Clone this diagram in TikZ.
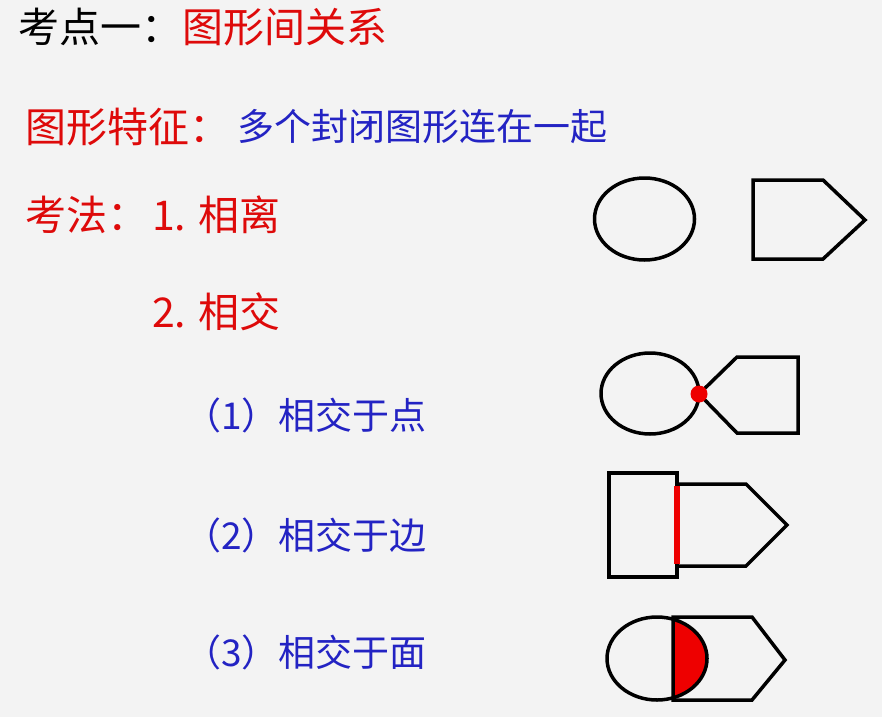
\documentclass[tikz,border=0pt]{standalone}
\usepackage{fontspec}
\setmainfont{Noto Sans CJK SC}
\definecolor{txtred}{RGB}{222,10,10}
\definecolor{txtblue}{RGB}{35,35,195}
\definecolor{bgc}{RGB}{243,243,243}
\definecolor{shred}{RGB}{238,0,0}
\begin{document}
\begin{tikzpicture}[x=1pt,y=-1pt,
  bigtxt/.style={anchor=west,inner sep=0pt,font=\fontsize{41}{48}\selectfont},
  smalltxt/.style={anchor=west,inner sep=0pt,font=\fontsize{37}{44}\selectfont,text=txtblue},
  outline/.style={draw=black,line width=3.5pt,line join=miter},
  redfill/.style={fill=shred}]
\fill[bgc] (0,0) rectangle (882,717);
\useasboundingbox (0,0) rectangle (882,717);

% texts
\node[bigtxt] (t1) at (18,27) {考点一：\textcolor{txtred}{图形间关系}};
\node[bigtxt,text=txtred] (t2) at (25,127) {图形特征：};
\node[smalltxt] (t2b) at (237,127) {多个封闭图形连在一起};
\node[bigtxt,text=txtred] (t3) at (25,215) {考法：};
\node[bigtxt,text=txtred] (t3b) at (152,215) {1. 相离};
\node[bigtxt,text=txtred] (t4) at (152,312) {2. 相交};
\node[smalltxt] (t5) at (184,415) {（1）相交于点};
\node[smalltxt] (t6) at (184,535) {（2）相交于边};
\node[smalltxt] (t7) at (184,652) {（3）相交于面};

% row 1: separate
\draw[outline] (644.5,219) ellipse [x radius=50,y radius=41];
\draw[outline] (753,180) -- (823,180) -- (865,220) -- (823,259) -- (753,259) -- cycle;

% row 2: touching at a point
\draw[outline] (650,393.5) ellipse [x radius=49,y radius=40.5];
\draw[outline] (699,394) -- (737,357) -- (798,357) -- (798,433) -- (737,433) -- cycle;
\fill[shred] (699,394) circle [radius=8.5];

% row 3: sharing an edge
\draw[outline] (609,473) rectangle (677,577);
\draw[outline] (677,484) -- (746,484) -- (787,525) -- (746,566) -- (677,566) -- cycle;
\draw[draw=shred,line width=5.5pt] (677,486) -- (677,564);

% row 4: overlapping area
\begin{scope}
  \clip (673,600) rectangle (760,717);
  \fill[shred] (657,658.5) ellipse [x radius=50,y radius=41.5];
\end{scope}
\draw[outline] (657,658.5) ellipse [x radius=50,y radius=41.5];
\draw[outline] (673,617) -- (752,617) -- (785,660) -- (752,700) -- (673,700) -- cycle;
\end{tikzpicture}
\end{document}
